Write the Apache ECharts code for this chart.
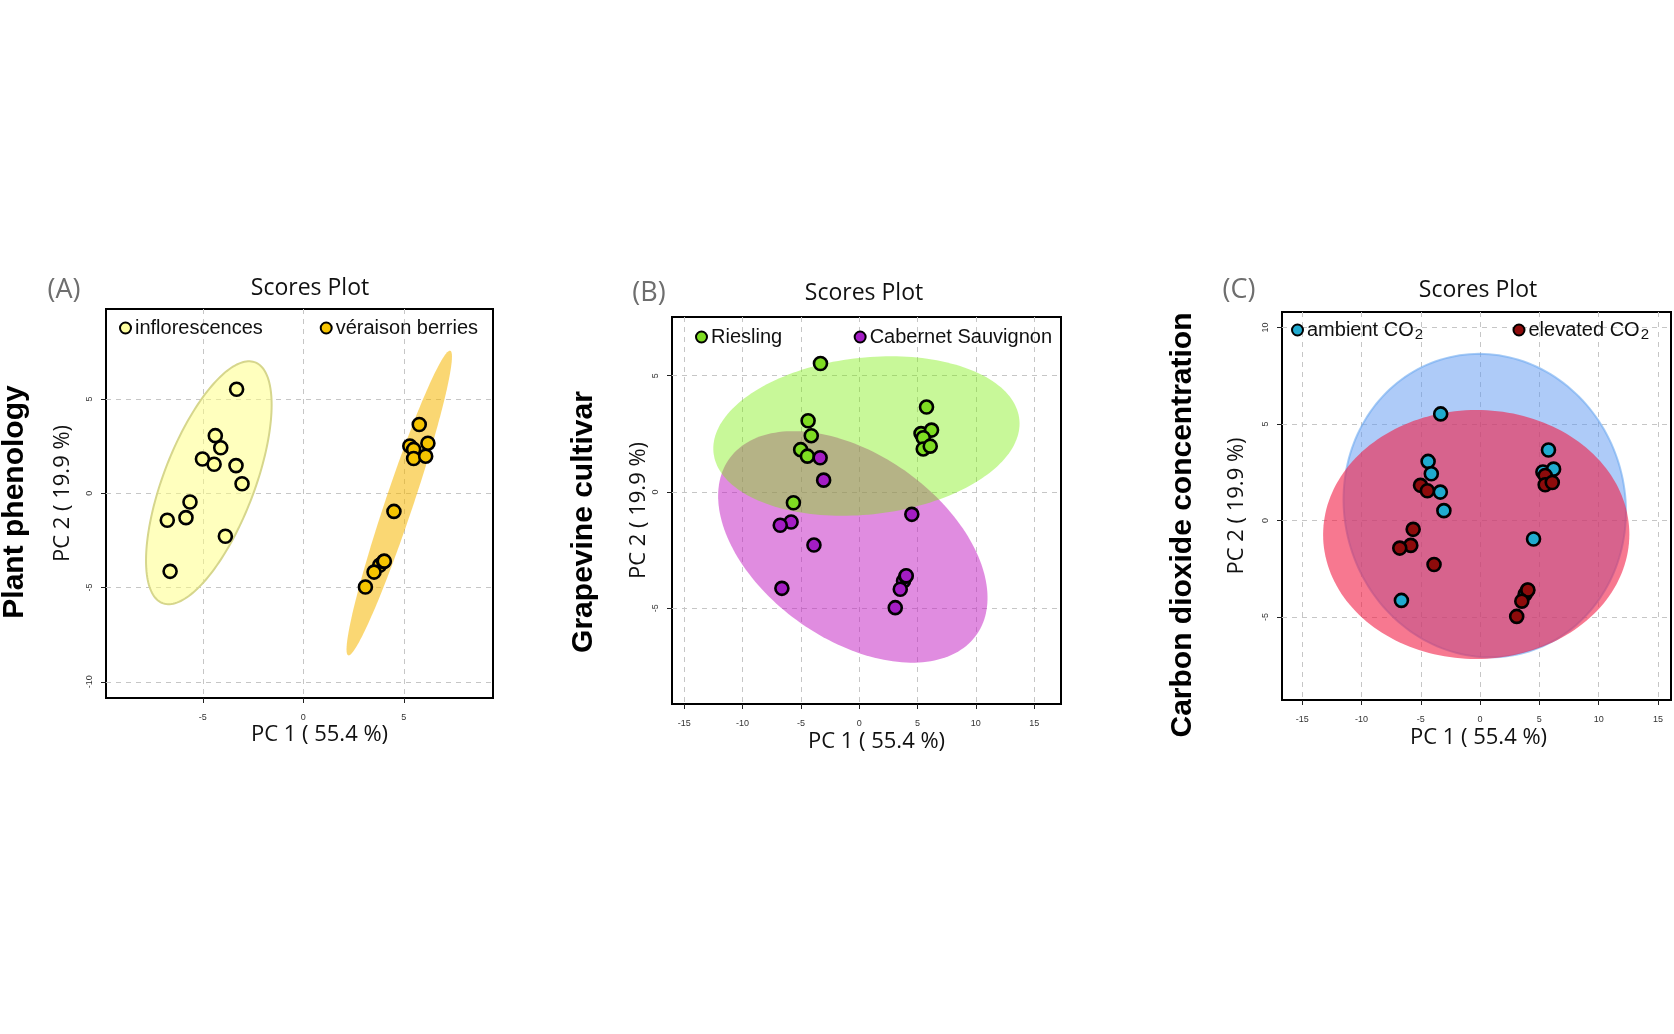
<!DOCTYPE html>
<html>
<head>
<meta charset="utf-8">
<title>Scores Plot</title>
<script src="https://cdn.jsdelivr.net/npm/echarts@6/dist/echarts.min.js"></script>
<style>
html, body { margin: 0; padding: 0; background: #fff; }
#main { width: 1674px; height: 1034px; }
</style>
</head>
<body>
<div id="main"></div>
<script>
// PCA scores of the 24 samples, the same in all three panels (only the grouping changes)
var pc1 = [-3.32, -4.38, -4.11, -5.02, -4.44, -5.64, -3.35, -3.05, -6.63, -5.84, -6.77, -3.88,
            5.77,  5.30,  6.20,  5.49,  5.49,  6.09,  4.51,  3.80,  4.00,  4.03,  3.52,  3.09];
var pc2 = [ 5.52,  3.06,  2.42,  1.82,  1.54, -0.46,  1.47,  0.51, -4.14, -1.29, -1.43, -2.28,
            3.65,  2.51,  2.66,  2.33,  1.85,  1.97, -0.96, -3.82, -3.62, -3.60, -4.18, -4.97];

// grouping of every sample
var stage    = ['I','I','I','I','I','I','I','I','I','I','I','I','V','V','V','V','V','V','V','V','V','V','V','V'];
var cultivar = ['R','R','R','R','R','R','C','C','C','C','C','C','R','R','R','R','R','R','C','C','C','C','C','C'];
var co2      = ['a','a','a','e','e','e','a','a','a','e','e','e','a','a','a','e','e','e','a','a','a','e','e','e'];

// axis ranges and tick values of the three panels
var xRangeA = [-9.82, 9.44],  yRangeA = [-10.86, 9.78];
var xRangeB = [-16.05, 17.3], yRangeB = [-9.11, 7.52];
var xRangeC = [-16.7, 16.1],  yRangeC = [-9.3, 10.8];
var xTicksA = [-5, 0, 5],                    yTicksA = [-10, -5, 0, 5];
var xTicksB = [-15, -10, -5, 0, 5, 10, 15],  yTicksB = [-5, 0, 5];
var xTicksC = [-15, -10, -5, 0, 5, 10, 15],  yTicksC = [-5, 0, 5, 10];

var SANS = '"Liberation Sans", "DejaVu Sans", sans-serif';
var MYRIAD = '"Open Sans", "Noto Sans", sans-serif';

function pick(group, code) {
  var out = [];
  for (var i = 0; i < pc1.length; i++) {
    if (group[i] === code) out.push([pc1[i], pc2[i]]);
  }
  return out;
}

// 95% confidence ellipse (chi-square, 2 df) from the sample covariance
function ellipse(pts) {
  var n = pts.length, mx = 0, my = 0;
  pts.forEach(function (p) { mx += p[0]; my += p[1]; });
  mx /= n; my /= n;
  var sxx = 0, syy = 0, sxy = 0;
  pts.forEach(function (p) {
    var dx = p[0] - mx, dy = p[1] - my;
    sxx += dx * dx; syy += dy * dy; sxy += dx * dy;
  });
  sxx /= n - 1; syy /= n - 1; sxy /= n - 1;
  var t = Math.sqrt(-2 * Math.log(0.05));
  var tr = sxx + syy, det = sxx * syy - sxy * sxy;
  var d = Math.sqrt(tr * tr / 4 - det);
  var l1 = tr / 2 + d, l2 = Math.max(tr / 2 - d, 0);
  var ang = 0.5 * Math.atan2(2 * sxy, sxx - syy);
  var ring = [];
  for (var k = 0; k < 180; k++) {
    var th = 2 * Math.PI * k / 180;
    var u = t * Math.sqrt(l1) * Math.cos(th), v = t * Math.sqrt(l2) * Math.sin(th);
    ring.push([mx + u * Math.cos(ang) - v * Math.sin(ang), my + u * Math.sin(ang) + v * Math.cos(ang)]);
  }
  return ring;
}

function ellipseSeries(name, idx, pts, fill, stroke) {
  var ring = ellipse(pts);
  return {
    type: 'custom', name: name, xAxisIndex: idx, yAxisIndex: idx,
    silent: true, data: [[0, 0]],
    renderItem: function (params, api) {
      return {
        type: 'polygon',
        shape: { points: ring.map(function (p) { return api.coord(p); }) },
        style: { fill: fill, stroke: stroke || null, lineWidth: stroke ? 2 : 0 }
      };
    }
  };
}

function pointSeries(name, idx, pts, color) {
  return {
    type: 'scatter', name: name, xAxisIndex: idx, yAxisIndex: idx, data: pts,
    symbol: 'circle', symbolSize: 13,
    itemStyle: { color: color, borderColor: '#000', borderWidth: 2.6, opacity: 1 },
    emphasis: { disabled: true }
  };
}

function axis(dir, idx, range, ticks, split, name, gap, pad) {
  return {
    type: 'value', gridIndex: idx, min: range[0], max: range[1], splitNumber: split,
    name: name, nameLocation: 'middle', nameGap: gap, nameRotate: dir === 'y' ? 90 : 0,
    nameTextStyle: { fontFamily: MYRIAD, fontSize: 22, color: '#111', padding: pad },
    axisLine: { show: false, onZero: false },
    axisTick: { show: true, inside: false, length: 5, customValues: ticks, lineStyle: { color: '#222', width: 1 } },
    axisLabel: {
      customValues: ticks, fontSize: 9, color: '#333', fontFamily: SANS,
      margin: dir === 'y' ? 12 : 15, rotate: dir === 'y' ? 90 : 0
    },
    splitLine: { show: true, lineStyle: { type: [5, 5], color: '#c6c6c6', width: 1 } }
  };
}

function legend(name, pos) {
  var l = {
    data: [name], orient: 'horizontal', padding: 0, icon: 'circle',
    itemWidth: 11, itemHeight: 11, itemGap: 0, selectedMode: false,
    // CO2 gets a real subscript 2
    formatter: function (n) { return n.replace('CO₂', 'CO{sub|2}'); },
    textStyle: {
      fontFamily: SANS, fontSize: 20, color: '#111', padding: [0, 0, 0, -1],
      rich: { sub: { fontFamily: SANS, fontSize: 15, color: '#111', padding: [10, 0, 0, 1] } }
    }
  };
  for (var k in pos) l[k] = pos[k];
  return l;
}

function txt(text, x, y, font, color, rot) {
  return {
    type: 'text', x: x, y: y, rotation: rot || 0, silent: true,
    style: { text: text, font: font, fill: color || '#111', align: 'center', verticalAlign: 'middle' }
  };
}

var myChart = echarts.init(document.getElementById('main'), null, { renderer: 'canvas' });

var option = {
  backgroundColor: '#fff',
  animation: false,
  grid: [
    { left: 106, top: 309, width: 387, height: 389, show: true, borderColor: '#000', borderWidth: 2, backgroundColor: 'transparent' },
    { left: 672, top: 317, width: 389, height: 387, show: true, borderColor: '#000', borderWidth: 2, backgroundColor: 'transparent' },
    { left: 1282, top: 312, width: 389, height: 388, show: true, borderColor: '#000', borderWidth: 2, backgroundColor: 'transparent' }
  ],
  xAxis: [
    axis('x', 0, xRangeA, xTicksA, 4, 'PC 1 ( 55.4 %)', 26, [0, 0, 0, 40]),
    axis('x', 1, xRangeB, xTicksB, 6, 'PC 1 ( 55.4 %)', 27, [0, 0, 0, 20]),
    axis('x', 2, xRangeC, xTicksC, 6, 'PC 1 ( 55.4 %)', 27, [0, 0, 0, 4])
  ],
  yAxis: [
    axis('y', 0, yRangeA, yTicksA, 4, 'PC 2 ( 19.9 %)', 32, [0, 0, 0, 20]),
    axis('y', 1, yRangeB, yTicksB, 3, 'PC 2 ( 19.9 %)', 22, [0, 0, 0, 0]),
    axis('y', 2, yRangeC, yTicksC, 4, 'PC 2 ( 19.9 %)', 34, [0, 0, 0, 0])
  ],
  legend: [
    legend('inflorescences', { left: 119, top: 318 }),
    legend('véraison berries', { right: 1196, top: 318 }),
    legend('Riesling', { left: 695, top: 327 }),
    legend('Cabernet Sauvignon', { right: 622, top: 327 }),
    legend('ambient CO₂', { left: 1291, top: 320 }),
    legend('elevated CO₂', { right: 25, top: 320 })
  ],
  graphic: [
    txt('(A)', 64, 290, '27px ' + MYRIAD, '#6e6e6e'),
    txt('(B)', 649, 293, '27px ' + MYRIAD, '#6e6e6e'),
    txt('(C)', 1239, 290, '27px ' + MYRIAD, '#6e6e6e'),
    txt('Scores Plot', 310, 288, '23px ' + MYRIAD),
    txt('Scores Plot', 864, 293, '23px ' + MYRIAD),
    txt('Scores Plot', 1478, 290, '23px ' + MYRIAD),
    txt('Plant phenology', 15, 502, 'bold 30px ' + SANS, '#000', Math.PI / 2),
    txt('Grapevine cultivar', 584, 522, 'bold 30px ' + SANS, '#000', Math.PI / 2),
    txt('Carbon dioxide concentration', 1183, 525, 'bold 30px ' + SANS, '#000', Math.PI / 2)
  ],
  series: [
    // (A) plant phenology
    ellipseSeries('inflorescences area', 0, pick(stage, 'I'), 'rgba(255,255,125,0.5)', '#d6d68c'),
    ellipseSeries('véraison berries area', 0, pick(stage, 'V'), 'rgba(246,182,0,0.55)'),
    pointSeries('inflorescences', 0, pick(stage, 'I'), '#ffffa0'),
    pointSeries('véraison berries', 0, pick(stage, 'V'), '#f6c400'),
    // (B) grapevine cultivar
    ellipseSeries('Cabernet Sauvignon area', 1, pick(cultivar, 'C'), 'rgba(193,25,193,0.5)'),
    ellipseSeries('Riesling area', 1, pick(cultivar, 'R'), 'rgba(117,237,0,0.4)'),
    pointSeries('Riesling', 1, pick(cultivar, 'R'), '#7edc22'),
    pointSeries('Cabernet Sauvignon', 1, pick(cultivar, 'C'), '#a41dc4'),
    // (C) carbon dioxide concentration
    ellipseSeries('ambient CO₂ area', 2, pick(co2, 'a'), 'rgba(93,151,241,0.5)', 'rgba(110,170,240,0.6)'),
    ellipseSeries('elevated CO₂ area', 2, pick(co2, 'e'), 'rgba(242,30,70,0.6)'),
    pointSeries('ambient CO₂', 2, pick(co2, 'a'), '#20aacf'),
    pointSeries('elevated CO₂', 2, pick(co2, 'e'), '#8e0b0b')
  ]
};

myChart.setOption(option);
window.onresize = function () { myChart.resize(); };
</script>
</body>
</html>
